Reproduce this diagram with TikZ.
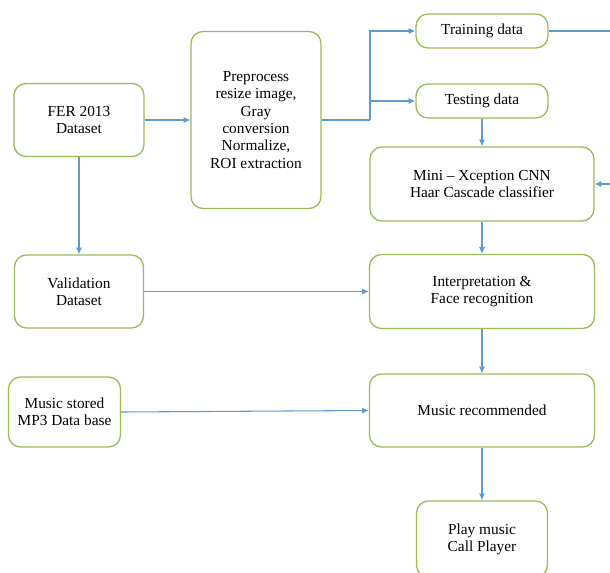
\documentclass[tikz,border=0pt]{standalone}
\usepackage{fontspec}
\setmainfont{Liberation Serif}
\usetikzlibrary{arrows.meta, positioning}

\definecolor{boxgreen}{RGB}{155,187,89}
\definecolor{arrowblue}{RGB}{91,155,213}

\tikzset{
  stage/.style={draw=boxgreen, line width=1pt, rounded corners=9pt, fill=white,
    align=center, inner sep=2pt, font=\fontsize{11.5}{13}\selectfont},
  flow/.style={draw=arrowblue, line width=0.8pt, -{Latex[length=5pt,width=4.5pt]}},
  flowline/.style={draw=arrowblue, line width=0.8pt}
}

\begin{document}
\begin{tikzpicture}[x=0.75pt,y=0.75pt,yscale=-1,xscale=1]
\useasboundingbox (0,0) rectangle (610,572);

% Stages
\node [stage, minimum width=97.5pt, minimum height=54.75pt] (fer) at (79,120) {FER 2013\\Dataset};
\node [stage, minimum width=97.5pt, minimum height=132.75pt] (pre) at (256,120) {Preprocess\\resize image,\\Gray\\conversion\\Normalize,\\ROI extraction};
\node [stage, minimum width=99pt, minimum height=25.5pt] (train) at (482,31) {Training data};
\node [stage, minimum width=99pt, minimum height=25.5pt] (test) at (482,101) {Testing data};
\node [stage, minimum width=168pt, minimum height=55.5pt] (cnn) at (482,184) {Mini -- Xception CNN\\Haar Cascade classifier};
\node [stage, minimum width=96.75pt, minimum height=54.75pt] (val) at (79,291.5) {Validation\\Dataset};
\node [stage, minimum width=168.75pt, minimum height=55.5pt] (interp) at (482,291.5) {Interpretation \&\\Face recognition};
\node [stage, minimum width=84pt, minimum height=52.5pt] (mus) at (64.5,412) {Music stored\\MP3 Data base};
\node [stage, minimum width=168.75pt, minimum height=54.75pt] (rec) at (482,410.5) {Music recommended};
\node [stage, minimum width=98.25pt, minimum height=57pt] (play) at (482,539) {Play music\\Call Player};

% Free ends and split point
\coordinate (split) at (370,120);
\coordinate (trainout) at (612,31);
\coordinate (cnnin) at (612,184);

% Connectors
\draw [flow] (fer) -- (pre);
\draw [flowline] (pre.east) -- (split);
\draw [flow] (split) |- (train);
\draw [flow] (split) |- (test);
\draw [flowline] (train) -- (trainout);
\draw [flow] (cnnin) -- (cnn);
\draw [flow] (test) -- (cnn);
\draw [flow] (fer) -- (val);
\draw [flow] (cnn) -- (interp);
\draw [flow] (val) -- (interp);
\draw [flow] (interp) -- (rec);
\draw [flow] (mus.east) -- (rec.west);
\draw [flow] (rec) -- (play);

\end{tikzpicture}
\end{document}
